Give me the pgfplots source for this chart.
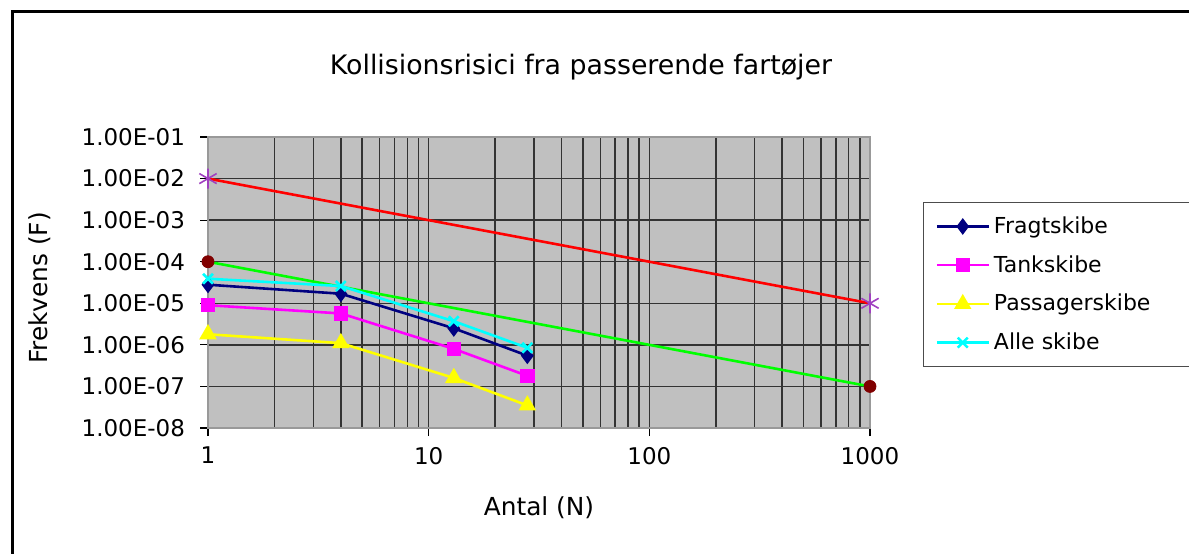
\documentclass[border=0pt]{standalone}
\usepackage{pgfplots}
\pgfplotsset{compat=1.18}
\usepackage{fontspec}
\setmainfont{DejaVu Sans}
\definecolor{bggray}{HTML}{C0C0C0}
\definecolor{navyc}{HTML}{000080}
\definecolor{magc}{HTML}{FF00FF}
\definecolor{yelc}{HTML}{FFFF00}
\definecolor{cyac}{HTML}{00FFFF}
\definecolor{redc}{HTML}{FF0000}
\definecolor{grnc}{HTML}{00FF00}
\definecolor{purc}{HTML}{A040C0}
\definecolor{dredc}{HTML}{800000}
\begin{document}
\begin{tikzpicture}
\useasboundingbox (0pt,0pt) rectangle (594.5pt,276.5pt);
\draw[line width=1.5pt] (6pt,-2pt) -- (6pt,270.5pt) -- (600pt,270.5pt);
\begin{axis}[
  at={(104pt,62.5pt)}, anchor=south west, scale only axis,
  width=331pt, height=145.5pt,
  xmode=log, ymode=log,
  xmin=1, xmax=1000, ymin=1e-8, ymax=1e-1,
  axis background/.style={fill=bggray},
  xmajorgrids, xminorgrids, ymajorgrids, yminorticks=false,
  major grid style={black!80, line width=0.75pt},
  minor grid style={black!80, line width=0.75pt},
  axis line style={gray!80, line width=0.6pt},
  tick align=outside, xtick pos=bottom, ytick pos=left,
  major tick length=4pt, minor tick length=0pt,
  tick style={black, line width=0.6pt},
  xtick={1,10,100,1000}, xticklabels={1,10,100,1000},
  ytick={1e-8,1e-7,1e-6,1e-5,1e-4,1e-3,1e-2,1e-1},
  yticklabels={1.00E-08,1.00E-07,1.00E-06,1.00E-05,1.00E-04,1.00E-03,1.00E-02,1.00E-01},
  ticklabel style={font=\fontsize{11.5}{14}\selectfont},
  xticklabel style={yshift=-2pt},
  yticklabel style={xshift=-4pt},
  legend style={at={(1.080,0.7766)}, anchor=north west, draw=black!70, fill=white,
    font=\fontsize{11}{13}\selectfont, cells={anchor=west}, row sep=5.5pt,
    inner xsep=6pt, inner ysep=5pt, line width=0.6pt},
  legend image code/.code={\draw[mark repeat=2,mark phase=2,line width=1.2pt] plot coordinates {(0pt,0pt) (13pt,0pt) (26pt,0pt)};},
]
\addplot[redc, line width=1.3pt, forget plot] coordinates {(1,1e-2) (1000,1e-5)};
\addplot[grnc, line width=1.3pt, forget plot] coordinates {(1,1e-4) (1000,1e-7)};
\addplot[only marks, purc, mark=asterisk, mark size=5pt, line width=0.8pt, forget plot] coordinates {(1,1e-2) (1000,1e-5)};
\addplot[only marks, dredc, mark=*, mark size=3pt, forget plot] coordinates {(1,1e-4) (1000,1e-7)};
\addplot[navyc, line width=1.3pt, mark=diamond*, mark size=3.2pt] coordinates {(1,2.8e-5) (4,1.7e-5) (13,2.5e-6) (28,5.5e-7)};
\addlegendentry{\makebox[93pt][l]{Fragtskibe}}
\addplot[magc, line width=1.3pt, mark=square*, mark size=3pt] coordinates {(1,9e-6) (4,5.7e-6) (13,8e-7) (28,1.8e-7)};
\addlegendentry{\makebox[93pt][l]{Tankskibe}}
\addplot[yelc, line width=1.3pt, mark=triangle*, mark size=3.8pt] coordinates {(1,1.8e-6) (4,1.1e-6) (13,1.6e-7) (28,3.5e-8)};
\addlegendentry{\makebox[93pt][l]{Passagerskibe}}
\addplot[cyac, line width=1.3pt, mark=x, mark size=3.5pt] coordinates {(1,3.9e-5) (4,2.6e-5) (13,3.7e-6) (28,8.5e-7)};
\addlegendentry{\makebox[93pt][l]{Alle skibe}}
\end{axis}
\node[font=\fontsize{13.4}{16}\selectfont] at (290.5pt,243pt) {Kollisionsrisici fra passerende fartøjer};
\node[font=\fontsize{12.4}{15}\selectfont] at (269.5pt,22.5pt) {Antal (N)};
\node[font=\fontsize{12.4}{15}\selectfont, rotate=90] at (20pt,132.5pt) {Frekvens (F)};
\end{tikzpicture}
\end{document}
